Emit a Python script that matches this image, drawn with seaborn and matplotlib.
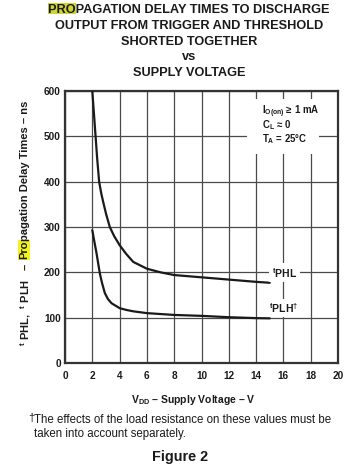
#!/usr/bin/env python3
import pandas as pd
import seaborn as sns
import matplotlib.pyplot as plt
from matplotlib.patches import Rectangle

# values
supply_v_phl = [2.0, 2.12, 2.24, 2.36, 2.5, 2.65, 2.8, 3.0, 3.28, 3.6, 4.0, 4.5, 5.0, 6.0, 7.0, 8.0, 10.0, 12.0, 14.0, 15.0]
delay_phl = [600, 550, 500, 450, 400, 375, 355, 330, 300, 280, 260, 240, 223, 208, 200, 194, 189, 184, 179, 177]

supply_v_plh = [2.0, 2.15, 2.31, 2.55, 2.7, 2.92, 3.15, 3.4, 4.0, 4.5, 5.0, 6.0, 7.0, 8.0, 10.0, 12.0, 14.0, 15.0]
delay_plh = [293, 268, 242, 198, 178, 154, 141, 132, 121, 117, 114, 110, 108, 106, 104, 101, 99, 98.5]

x_ticks = list(range(0, 21, 2))
y_ticks = list(range(0, 601, 100))

title_lines = ['PROPAGATION DELAY TIMES TO DISCHARGE',
               'OUTPUT FROM TRIGGER AND THRESHOLD',
               'SHORTED TOGETHER',
               'vs',
               'SUPPLY VOLTAGE']

conditions = [r'$\mathbf{I_{O(on)}}\,\geq\,$1 mA',
              r'$\mathbf{C_L}\,\approx\,$0',
              r'$\mathbf{T_A}$ = 25$\degree$C']

ylabel_parts = [r'$^{\mathbf{t}}$ PHL,  $^{\mathbf{t}}$ PLH   –  ', 'Pro', 'pagation Delay Times – ns']

sns.set_style('white')
plt.rcParams['font.family'] = ['Liberation Sans', 'DejaVu Sans']
plt.rcParams['mathtext.fontset'] = 'custom'
plt.rcParams['mathtext.rm'] = 'Liberation Sans'
plt.rcParams['mathtext.it'] = 'Liberation Sans:italic'
plt.rcParams['mathtext.bf'] = 'Liberation Sans:bold'
plt.rcParams['mathtext.default'] = 'regular'

INK = '#1a1a1a'
W, H = 357, 469

df_phl = pd.DataFrame({'v': supply_v_phl, 'ns': delay_phl})
df_plh = pd.DataFrame({'v': supply_v_plh, 'ns': delay_plh})

fig = plt.figure(figsize=(W / 100, H / 100), dpi=100)
ax = fig.add_axes([65 / W, 1 - 363 / H, 273 / W, 272 / H])

sns.lineplot(data=df_phl, x='v', y='ns', ax=ax, sort=False, estimator=None, color=INK, lw=1.6, zorder=4)
sns.lineplot(data=df_plh, x='v', y='ns', ax=ax, sort=False, estimator=None, color=INK, lw=1.6, zorder=4)

ax.set_xlim(0, 20)
ax.set_ylim(0, 600)
ax.set_xticks(x_ticks)
ax.set_yticks(y_ticks)
ax.grid(True, color='#4a4a4a', lw=0.9)
ax.set_axisbelow(True)
for s in ax.spines.values():
    s.set_color('#333333')
    s.set_linewidth(1.6)
ax.tick_params(length=0, labelsize=7.2, colors=INK)
ax.tick_params(axis='x', pad=6)
ax.tick_params(axis='y', pad=3)
for lab in ax.get_xticklabels() + ax.get_yticklabels():
    lab.set_fontweight('bold')
ax.set_xlabel('')
ax.set_ylabel('')

# condition box
ax.add_patch(Rectangle((13.3, 462), 5.3, 120, facecolor='white', edgecolor='none', zorder=2))
for i, c in enumerate(conditions):
    ax.text(14.4, 548 - i * 31, c, fontsize=6.9, fontweight='bold', color=INK, va='baseline', zorder=5)

# curve labels
ax.text(16.1, 199, r'$^{\mathbf{t}}$PHL', fontsize=7.5, fontweight='bold', color=INK, ha='center', va='center',
        zorder=5, bbox=dict(facecolor='white', edgecolor='none', pad=2))
ax.text(16.0, 121, r'$^{\mathbf{t}}$PLH$^{\dagger}$', fontsize=7.5, fontweight='bold', color=INK, ha='center',
        va='center', zorder=5, bbox=dict(facecolor='white', edgecolor='none', pad=1.5))

# title, with the first three letters marked
baselines = [13, 29, 45, 60, 76]
title_texts = []
for line, yb in zip(title_lines, baselines):
    t = fig.text(189 / W, 1 - yb / H, line, fontsize=9.2, fontweight='bold', color=INK, ha='center', va='baseline')
    title_texts.append(t)

fig.canvas.draw()
r = fig.canvas.get_renderer()
bb = title_texts[0].get_window_extent(r)
tmp = fig.text(0, 0, 'PRO', fontsize=9.2, fontweight='bold')
w_pro = tmp.get_window_extent(r).width
tmp.remove()
fig.add_artist(Rectangle((bb.x0 / W, 1 - 14.5 / H), w_pro / W, 11 / H, transform=fig.transFigure,
                         facecolor='#cfd631', edgecolor='none', zorder=1))

# y label, built from pieces so "Pro" can carry its own marker
prev = fig.text(26 / W, 1 - 346 / H, ylabel_parts[0], fontsize=8, fontweight='bold', color=INK,
                rotation=90, ha='center', va='bottom')
fig.canvas.draw()
last_bb = prev.get_window_extent(r)
for part in ylabel_parts[1:]:
    box = dict(facecolor='#f2f21c', edgecolor='none', pad=0.6) if part == 'Pro' else None
    prev = fig.text((last_bb.x0 + 0.5) / W, last_bb.y1 / H, part, fontsize=8, fontweight='bold', color=INK,
                    rotation=90, ha='left', va='bottom', bbox=box)
    fig.canvas.draw()
    last_bb = prev.get_window_extent(r)

fig.text(193 / W, 1 - 403 / H, r'V$_{\mathbf{DD}}$ – Supply Voltage – V', fontsize=7.5, fontweight='bold',
         color=INK, ha='center', va='baseline')

fig.text(28 / W, 1 - 421 / H, '†', fontsize=8, color=INK, ha='left', va='baseline')
fig.text(34 / W, 1 - 423 / H, 'The effects of the load resistance on these values must be',
         fontsize=8.3, color=INK, ha='left', va='baseline')
fig.text(34 / W, 1 - 437 / H, 'taken into account separately.', fontsize=8.3, color=INK, ha='left', va='baseline')

fig.text(180 / W, 1 - 461 / H, 'Figure 2', fontsize=10.4, fontweight='bold', color=INK, ha='center', va='baseline')

fig.savefig('out.png', dpi=100, facecolor='white')
